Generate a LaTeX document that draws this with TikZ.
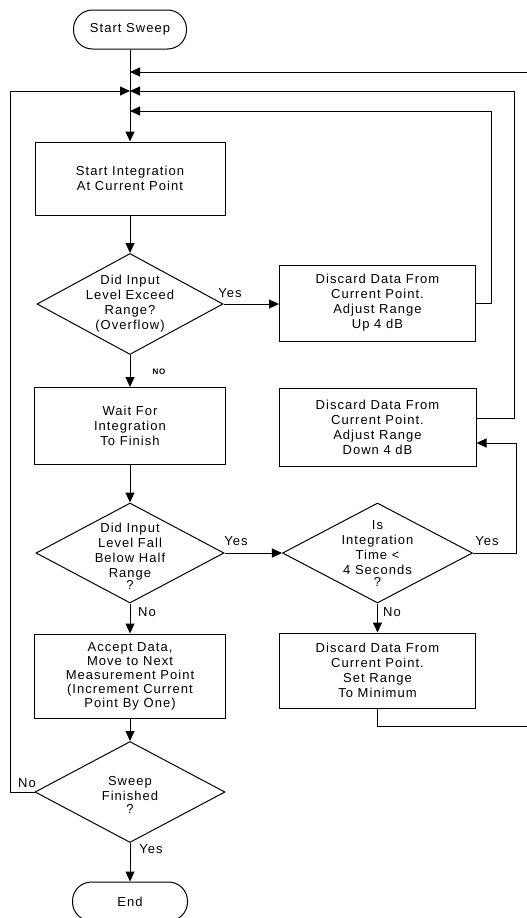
\documentclass[tikz,border=0pt]{standalone}
\usepackage{fontspec}
\setmainfont{Liberation Sans}[LetterSpace=8]
\usetikzlibrary{shapes.geometric,arrows.meta}
\begin{document}
\begin{tikzpicture}[x=1pt,y=-1pt,line width=1pt,
  txt/.style={align=center,inner sep=0pt,font=\fontsize{13}{15}\selectfont},
  box/.style={draw,txt},
  term/.style={draw,txt,rounded corners=19pt},
  dia/.style={draw,diamond,inner sep=0pt},
  lbl/.style={inner sep=0pt,font=\fontsize{13}{15}\selectfont},
  arr/.style={-{Triangle[length=10pt,width=9pt]}}]
\useasboundingbox (0,0) rectangle (527,918);
% nodes
\node[term,minimum width=113pt,minimum height=39pt] (start) at (130,29.5) {Start Sweep};
\node[box,minimum width=190pt,minimum height=73pt] (integ) at (130,178.5) {Start Integration\\At Current Point};
\node[dia,minimum width=186pt,minimum height=101pt] (d1) at (130,304) {};
\node[txt] (d1t) at (130,304) {Did Input\\Level Exceed\\Range?\\(Overflow)};
\node[box,minimum width=196pt,minimum height=76pt] (up) at (377.5,303) {Discard Data From\\Current Point.\\Adjust Range\\Up 4 dB};
\node[box,minimum width=191pt,minimum height=77pt] (wait) at (130,426) {Wait For\\Integration\\To Finish};
\node[box,minimum width=197pt,minimum height=78pt] (down) at (377.5,427) {Discard Data From\\Current Point.\\Adjust Range\\Down 4 dB};
\node[dia,minimum width=188pt,minimum height=100pt] (d2) at (130,553) {};
\node[txt] (d2t) at (130,556) {Did Input\\Level Fall\\Below Half\\Range\\[-3pt]?};
\node[dia,minimum width=190pt,minimum height=100pt] (d3) at (377.5,553) {};
\node[txt] (d3t) at (377.5,554) {Is\\Integration\\Time <\\4 Seconds\\[-3pt]?};
\node[box,minimum width=196pt,minimum height=75pt] (setr) at (377.5,670.5) {Discard Data From\\Current Point.\\Set Range\\To Minimum};
\node[box,minimum width=191pt,minimum height=84pt,font=\fontsize{13}{14}\selectfont] (accept) at (130,676) {Accept Data,\\Move to Next\\Measurement Point\\(Increment Current\\Point By One)};
\node[dia,minimum width=190pt,minimum height=101pt] (d4) at (130,792) {};
\node[txt] (d4t) at (130,795) {Sweep\\Finished\\[-2pt]?};
\node[term,minimum width=115pt,minimum height=39pt] (end) at (130,901.5) {End};
% junction points
\coordinate (j1) at (130,72);
\coordinate (j2) at (130,91);
\coordinate (j3) at (130,111);
% connectors
\draw[arr] (start) -- (integ);
\draw[arr] (integ) -- (d1);
\draw[arr] (d1.east) -- (d1.east -| up.west);
\draw[arr] (d1) -- (wait);
\draw[arr] (wait) -- (d2);
\draw[arr] (d2) -- (d3);
\draw[arr] (d2) -- (accept);
\draw[arr] (accept) -- (d4);
\draw[arr] (d4) -- (end);
\draw[arr] (d3) -- (setr);
\draw[arr] (d3.east) -| (516,443) -- ([yshift=-16pt]down.east);
\draw[arr] (up.east) -| (491,111) -- (j3);
\draw[arr] ([yshift=9pt]down.east) -| (514,91) -- (j2);
\draw[arr] (d4.west) -| (10,91) -- (j2);
\draw[arr] (setr.south) |- (528,726) |- (j1);
% labels
\node[lbl] (y1) at (230,293) {Yes};
\node[lbl,font=\fontsize{8}{9}\selectfont\bfseries] (n1) at (159,372) {NO};
\node[lbl] (y2) at (236,541) {Yes};
\node[lbl] (y3) at (487,541) {Yes};
\node[lbl] (n2) at (147,612) {No};
\node[lbl] (n3) at (392,612) {No};
\node[lbl] (n4) at (27,783) {No};
\node[lbl] (y4) at (151,849) {Yes};
\end{tikzpicture}
\end{document}
